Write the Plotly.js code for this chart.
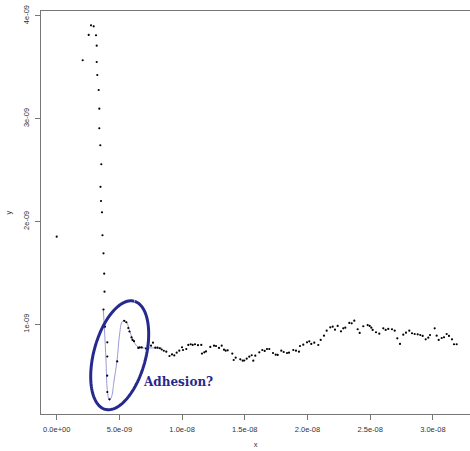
<!DOCTYPE html>
<html>
<head>
<meta charset="utf-8">
<script src="https://cdn.plot.ly/plotly-3.0.1.min.js"></script>
<style>html,body{margin:0;padding:0;background:#fff;overflow:hidden}</style>
</head>
<body>
<div id="chart" style="width:470px;height:451px"></div>
<script>
// values in units of 1e-9
const NANO = 1e-9;
const approachX = [0, 2.073, 2.552, 2.735, 2.951, 3.134, 3.190, 3.190, 3.238, 3.349, 3.397, 3.397, 3.477, 3.557, 3.493, 3.533, 3.612, 3.652, 3.732, 3.788, 3.812, 3.732];
const approachY = [1.852, 3.567, 3.813, 3.907, 3.897, 3.810, 3.709, 3.550, 3.424, 3.278, 3.096, 2.906, 2.741, 2.556, 2.337, 2.199, 2.089, 1.866, 1.690, 1.492, 1.317, 1.144];
const dipX = [3.852, 4.035, 4.035, 4.027, 4.035, 4.211, 4.825, 5.383, 5.550, 5.710, 5.805, 5.965, 6.045, 6.164, 6.507, 6.619, 6.778, 7.121, 7.520, 7.679, 7.863, 8.038, 8.222, 8.373, 8.541, 8.740];
const dipY = [0.977, 0.825, 0.687, 0.501, 0.342, 0.271, 0.639, 1.034, 1.020, 0.964, 0.930, 0.872, 0.848, 0.836, 0.770, 0.775, 0.775, 0.765, 0.792, 0.821, 0.773, 0.773, 0.767, 0.755, 0.743, 0.734];
const tailX = [8.995, 9.195, 9.378, 9.569, 9.777, 9.992, 10.072, 10.335, 10.495, 10.686, 10.845, 11.029, 11.268, 11.531, 11.587, 11.770, 11.906, 12.249, 12.544, 12.703, 12.943, 13.158, 13.341, 13.477, 13.636, 14.003, 14.115, 14.274, 14.641, 14.833, 14.960, 15.152, 15.359, 15.550, 15.678, 15.837, 16.156, 16.396, 16.587, 16.770, 16.954, 17.249, 17.464, 17.624, 17.911, 18.102, 18.365, 18.525, 18.868, 19.083, 19.322, 19.402, 19.665, 19.960, 20.144, 20.303, 20.542, 20.861, 21.053, 21.316, 21.531, 21.818, 22.010, 22.193, 22.408, 22.672, 22.855, 23.015, 23.334, 23.525, 23.732, 24.003, 24.163, 24.450, 24.801, 24.960, 25.088, 25.199, 25.463, 25.726, 26.045, 26.236, 26.443, 26.739, 26.954, 27.162, 27.377, 27.640, 27.855, 28.119, 28.334, 28.549, 28.788, 28.996, 29.187, 29.426, 29.633, 29.769, 30.144, 30.303, 30.463, 30.702, 30.886, 31.100, 31.284, 31.523, 31.683, 31.898];
const tailY = [0.692, 0.707, 0.697, 0.724, 0.744, 0.777, 0.750, 0.760, 0.800, 0.806, 0.800, 0.806, 0.797, 0.800, 0.715, 0.728, 0.736, 0.780, 0.792, 0.789, 0.770, 0.792, 0.753, 0.744, 0.747, 0.715, 0.653, 0.676, 0.660, 0.646, 0.648, 0.666, 0.685, 0.699, 0.646, 0.695, 0.728, 0.750, 0.741, 0.760, 0.760, 0.721, 0.705, 0.702, 0.744, 0.731, 0.721, 0.724, 0.750, 0.744, 0.734, 0.789, 0.802, 0.825, 0.835, 0.809, 0.821, 0.799, 0.848, 0.889, 0.938, 0.971, 0.977, 0.948, 0.984, 0.932, 0.961, 0.967, 1.013, 1.010, 1.035, 0.952, 0.916, 0.981, 0.993, 0.984, 0.967, 0.945, 0.923, 0.909, 0.961, 0.945, 0.955, 0.952, 0.938, 0.864, 0.809, 0.899, 0.919, 0.938, 0.913, 0.906, 0.903, 0.896, 0.887, 0.854, 0.870, 0.896, 0.961, 0.889, 0.848, 0.867, 0.874, 0.906, 0.887, 0.854, 0.806, 0.806];
// hand-drawn guide curve through the adhesion dip
const guideX = [3.716, 3.812, 3.931, 4.035, 4.195, 4.370, 4.569, 4.809, 5.008, 5.207, 5.407, 5.606, 5.845, 6.164, 6.483, 6.882, 7.600, 8.397];
const guideY = [1.149, 0.945, 0.653, 0.362, 0.264, 0.294, 0.449, 0.644, 0.896, 1.023, 1.037, 1.013, 0.925, 0.828, 0.780, 0.770, 0.770, 0.770];
const xTickVals = [0, 5, 10, 15, 20, 25, 30];
const xTickText = ['0.0e+00', '5.0e-09', '1.0e-08', '1.5e-08', '2.0e-08', '2.5e-08', '3.0e-08'];
const yTickVals = [1, 2, 3, 4];
const yTickText = ['1e-09', '2e-09', '3e-09', '4e-09'];

const sc = a => a.map(v => v * NANO);
const allX = sc([].concat(approachX, dipX, tailX));
const allY = sc([].concat(approachY, dipY, tailY));

const navy = '#262a8c';

// ellipse annotation (decoration): center, semi-axes in px, tilt
const pxX = 0.079745 * NANO, pxY = 0.009721 * NANO;
const cx = 5.024 * NANO, cy = 0.699 * NANO;
const a = 56, b = 26, th = 15 * Math.PI / 180;
let path = '';
const t0 = -Math.PI / 2 + 0.02, t1 = t0 + 2 * Math.PI - 0.02;
for (let i = 0; i <= 120; i++) {
  const t = t0 + (t1 - t0) * i / 120;
  const u = b * Math.cos(t), v = a * Math.sin(t);
  const dx = u * Math.cos(th) - v * Math.sin(th);
  const dy = u * Math.sin(th) + v * Math.cos(th);
  const X = cx + dx * pxX, Y = cy - dy * pxY;
  path += (i === 0 ? 'M' : 'L') + X + ',' + Y;
}

const traces = [
  {x: sc(guideX), y: sc(guideY), mode: 'lines', line: {color: '#9a9ad8', width: 1, shape: 'spline'}, hoverinfo: 'skip'},
  {x: allX, y: allY, mode: 'markers', marker: {color: '#000', size: 2.2}}
];

const tf = {family: 'Liberation Sans, Arial, sans-serif', size: 7.5, color: '#333'};
const axisBase = {
  showgrid: false, zeroline: false, showline: true, linecolor: '#777', linewidth: 1,
  ticks: 'outside', ticklen: 5, tickcolor: '#777', tickwidth: 1,
  tickfont: tf, ticklabelstandoff: 3
};

const layout = {
  width: 470, height: 451,
  margin: {l: 41, r: 0, t: 11, b: 37},
  showlegend: false,
  paper_bgcolor: '#fff', plot_bgcolor: '#fff',
  xaxis: Object.assign({}, axisBase, {
    range: [-1.252 * NANO, 32.96 * NANO], mirror: true,
    tickmode: 'array', tickvals: sc(xTickVals), ticktext: xTickText,
    title: {text: 'x', font: tf, standoff: 8}
  }),
  yaxis: Object.assign({}, axisBase, {
    range: [0.128 * NANO, 4.046 * NANO],
    tickmode: 'array', tickvals: sc(yTickVals), ticktext: yTickText, tickangle: -90,
    title: {text: 'y', font: tf, standoff: 9}
  }),
  shapes: [{type: 'path', xref: 'x', yref: 'y', path: path, line: {color: navy, width: 3}}],
  annotations: [{
    x: 9.67 * NANO, y: 0.444 * NANO, xref: 'x', yref: 'y', showarrow: false,
    text: '<b>Adhesion?</b>', font: {family: 'DejaVu Serif, serif', size: 12, color: navy}
  }]
};

Plotly.newPlot('chart', traces, layout, {staticPlot: true, displayModeBar: false});
</script>
</body>
</html>
